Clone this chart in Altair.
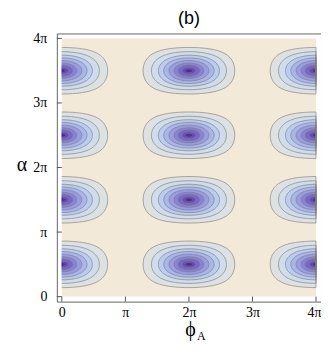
import numpy as np
import pandas as pd
import altair as alt

PI = np.pi

# ---- values ----
tick_values = [0.0, PI, 2 * PI, 3 * PI, 4 * PI]
tick_labels = ["0", "π", "2π", "3π", "4π"]
phi_centers = [0.0, 2 * PI, 4 * PI]                      # minima along φ_A
alpha_centers = [0.5 * PI, 1.5 * PI, 2.5 * PI, 3.5 * PI]  # minima along α
# contour levels of  sin²(α)·cos²(φ_A/2)  (outer -> inner), read from the ring sizes
contour_levels = [0.18, 0.36, 0.53, 0.66, 0.775, 0.87, 0.93, 0.975, 0.992]
band_colors = ["#DDE1E1", "#CEDCEC", "#BCCCEE", "#AAB6EA", "#9A9CE1",
               "#8982D7", "#7866CB", "#664ABB", "#5429A1"]
background_color = "#F2E9D8"
line_color = "#7a7a7a"

N = 48  # samples per half contour

area_rows = []
line_rows = []
blob = 0
for p0 in phi_centers:
    for a0 in alpha_centers:
        blob += 1
        for k, c in enumerate(contour_levels):
            half_w = 2 * np.arccos(np.sqrt(c))
            lo_t = 0.0 if p0 <= 0 else -PI / 2
            hi_t = 0.0 if p0 >= 4 * PI else PI / 2
            t = np.linspace(lo_t, hi_t, N)
            off = half_w * np.sin(t)
            ratio = np.clip(np.sqrt(c) / np.cos(off / 2), 0, 1)
            d = np.arccos(ratio)
            phis = p0 + off
            for ph, dd in zip(phis, d):
                area_rows.append({"level": k, "blob": blob, "phi": ph,
                                  "alpha": a0 - dd, "alpha2": a0 + dd})
            seq = [(ph, a0 + dd) for ph, dd in zip(phis, d)]
            seq += [(ph, a0 - dd) for ph, dd in zip(phis[::-1], d[::-1])]
            if 0 < p0 < 4 * PI:
                seq.append(seq[0])
            for i, (ph, al) in enumerate(seq):
                line_rows.append({"key": f"{blob}-{k}", "o": i, "phi": ph, "alpha": al})

area_df = pd.DataFrame(area_rows)
line_df = pd.DataFrame(line_rows)
bg_df = pd.DataFrame({"phi": [tick_values[0]], "phi2": [tick_values[-1]],
                      "alpha": [tick_values[0]], "alpha2": [tick_values[-1]]})
ticks_df = pd.DataFrame({"tv": tick_values})

W, H = 265, 269
padx = 4 * PI * 5 / 255
pady = 4 * PI * 5 / 259
xscale = alt.Scale(domain=[-padx, 4 * PI + padx], nice=False, zero=False)
yscale = alt.Scale(domain=[-pady, 4 * PI + pady], nice=False, zero=False)
label_expr = "[" + ",".join(f"'{s}'" for s in tick_labels) + "][round(datum.value / PI)]"
xaxis = alt.Axis(values=tick_values, labelExpr=label_expr, title="", grid=False,
                 ticks=False, domain=False, labelFont="Liberation Serif",
                 labelFontSize=14, labelColor="black", labelPadding=4, labelFlush=False,
                 labelAlign={"condition": {"test": "datum.value > 12", "value": "right"},
                             "value": "center"},
                 labelOffset={"condition": {"test": "datum.value > 12", "value": 5},
                              "value": 0})
yaxis = alt.Axis(values=tick_values, labelExpr=label_expr, title="", grid=False,
                 ticks=False, domain=False, labelFont="Liberation Serif",
                 labelFontSize=14, labelColor="black", labelPadding=10, labelFlush=False)


def X(f):
    return alt.X(f, type="quantitative", scale=xscale, axis=xaxis)


def Y(f):
    return alt.Y(f, type="quantitative", scale=yscale, axis=yaxis)


layers = []
layers.append(alt.Chart(bg_df).mark_rect(color=background_color).encode(
    x=X("phi"), x2="phi2", y=Y("alpha"), y2="alpha2"))

for k, col in enumerate(band_colors):
    layers.append(alt.Chart(area_df).transform_filter(alt.datum.level == k)
                  .mark_area(color=col, opacity=1)
                  .encode(x=X("phi"), y=Y("alpha"), y2="alpha2", detail="blob:N"))

layers.append(alt.Chart(line_df).mark_line(color=line_color, strokeWidth=0.9, opacity=0.7)
              .encode(x=X("phi"), y=Y("alpha"), detail="key:N", order="o:Q"))

layers.append(alt.Chart(ticks_df).mark_rule(color="#555", strokeWidth=1).encode(
    x=X("tv"), y=alt.value(H), y2=alt.value(H - 5)))
layers.append(alt.Chart(ticks_df).mark_rule(color="#555", strokeWidth=1).encode(
    y=Y("tv"), x=alt.value(0), x2=alt.value(5)))


def label(text, x, y, size, font, align="center", baseline="middle"):
    return alt.Chart(pd.DataFrame({"t": [text]})).mark_text(
        font=font, fontSize=size, color="black", align=align, baseline=baseline
    ).encode(x=alt.value(x), y=alt.value(y), text="t:N")


layers.append(label("(b)", 132.5, -9, 18, "Liberation Sans", baseline="alphabetic"))
layers.append(label("α", -35, 132, 20, "Liberation Serif"))
layers.append(label("ϕ", 134, 304, 20, "Liberation Serif", baseline="alphabetic"))
layers.append(label("A", 140.5, 308, 12, "Liberation Serif", align="left", baseline="alphabetic"))

chart = alt.layer(*layers).properties(
    width=W, height=H,
    autosize=alt.AutoSizeParams(type="none"),
    padding={"left": 49, "top": 25, "right": 0, "bottom": 40},
).configure_view(stroke="#666", strokeWidth=1)

chart.save("out.html", embed_options={"renderer": "svg", "actions": False})
